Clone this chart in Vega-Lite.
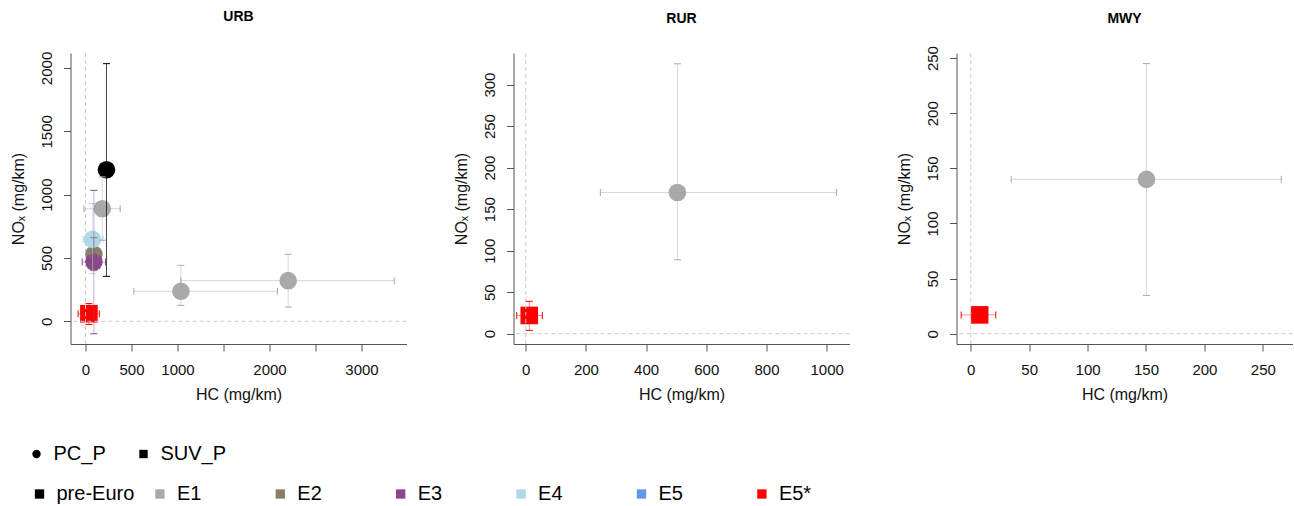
{
  "$schema": "https://vega.github.io/schema/vega-lite/v6.json",
  "background": "white",
  "padding": {"left": 9.5, "top": 10, "right": 0, "bottom": 0},
  "datasets": {
    "pts": [
      {"panel": "URB", "cat": "pre-Euro", "veh": "PC_P", "hc": 228, "nox": 1197, "hc_lo": 182, "hc_hi": 280, "nox_lo": 355, "nox_hi": 2034},
      {"panel": "URB", "cat": "E1", "veh": "PC_P", "hc": 182, "nox": 889, "hc_lo": -17, "hc_hi": 377, "nox_lo": 640, "nox_hi": 1140},
      {"panel": "URB", "cat": "E1", "veh": "PC_P", "hc": 1037, "nox": 237, "hc_lo": 526, "hc_hi": 2087, "nox_lo": 126, "nox_hi": 442},
      {"panel": "URB", "cat": "E1", "veh": "PC_P", "hc": 2203, "nox": 321, "hc_lo": 1037, "hc_hi": 3355, "nox_lo": 113, "nox_hi": 529},
      {"panel": "URB", "cat": "E2", "veh": "PC_P", "hc": 91, "nox": 529, "hc_lo": 50, "hc_hi": 135, "nox_lo": 400, "nox_hi": 660},
      {"panel": "URB", "cat": "E3", "veh": "PC_P", "hc": 91, "nox": 468, "hc_lo": -36, "hc_hi": 217, "nox_lo": -98, "nox_hi": 1034},
      {"panel": "URB", "cat": "E4", "veh": "PC_P", "hc": 76, "nox": 647, "hc_lo": -25, "hc_hi": 190, "nox_lo": 376, "nox_hi": 929},
      {"panel": "URB", "cat": "E5*", "veh": "SUV_P", "hc": 37, "nox": 60, "hc_lo": -80, "hc_hi": 150, "nox_lo": -25, "nox_hi": 140},
      {"panel": "RUR", "cat": "E1", "veh": "PC_P", "hc": 504, "nox": 170, "hc_lo": 248, "hc_hi": 1033, "nox_lo": 89, "nox_hi": 325},
      {"panel": "RUR", "cat": "E5*", "veh": "SUV_P", "hc": 11.6, "nox": 22, "hc_lo": -30, "hc_hi": 55, "nox_lo": 4, "nox_hi": 39},
      {"panel": "MWY", "cat": "E1", "veh": "PC_P", "hc": 150.4, "nox": 140, "hc_lo": 34.6, "hc_hi": 265.8, "nox_lo": 34.8, "nox_hi": 245},
      {"panel": "MWY", "cat": "E5*", "veh": "SUV_P", "hc": 7.6, "nox": 17.1, "hc_lo": -8.2, "hc_hi": 21.4, "nox_lo": 13, "nox_hi": 21}
    ],
    "ref": [{"ref": 0}]
  },
  "spacing": 107,
  "bounds": "flush",
  "hconcat": [
    {
      "width": 336, "height": 291,
      "title": {"text": "URB"},
      "layer": [
        {"data": {"name": "pts"}, "transform": [{"filter": "datum.panel === 'URB'"}],
         "mark": {"type": "point", "filled": true, "opacity": 1, "size": 310},
         "encoding": {
           "x": {"field": "hc", "type": "quantitative", "scale": {"domain": [-163, 3489], "nice": false, "zero": false}, "axis": {"title": "HC (mg/km)", "values": [0, 500, 1000, 1500, 2000, 2500, 3000], "format": "d", "labelExpr": "datum.value == 1500 || datum.value == 2500 ? '' : datum.label"}},
           "y": {"field": "nox", "type": "quantitative", "scale": {"domain": [-179, 2118], "nice": false, "zero": false}, "axis": {"title": "NOₓ (mg/km)", "values": [0, 500, 1000, 1500, 2000], "format": "d"}},
           "color": {"field": "cat", "type": "nominal", "scale": {"domain": ["pre-Euro", "E1", "E2", "E3", "E4", "E5", "E5*"], "range": ["#000000", "#A9A9A9", "#8B7D6B", "#8B4789", "#ADD8E6", "#6495ED", "#FF0000"]},
             "legend": {"orient": "none", "legendX": -41, "legendY": 431, "direction": "horizontal", "columns": 7, "gridAlign": "all", "columnPadding": 15.4, "symbolType": "square", "symbolSize": 87, "symbolStrokeWidth": 0, "symbolOpacity": 1, "labelFontSize": 20, "labelOffset": 7, "labelColor": "#000", "title": null}},
           "shape": {"field": "veh", "type": "nominal", "scale": {"domain": ["PC_P", "SUV_P"], "range": ["circle", "square"]},
             "legend": {"orient": "none", "legendX": -44, "legendY": 391, "direction": "horizontal", "columns": 2, "columnPadding": 27, "symbolSize": 70, "symbolFillColor": "#000", "symbolStrokeColor": "#000", "symbolStrokeWidth": 0, "symbolOpacity": 1, "labelFontSize": 20, "labelOffset": 7, "labelColor": "#000", "title": null}}
         }},
        {"data": {"name": "ref"}, "mark": {"type": "rule", "color": "#cccccc", "strokeDash": [4, 3], "strokeWidth": 1},
         "encoding": {"x": {"field": "ref", "type": "quantitative", "scale": {"domain": [-163, 3489], "nice": false, "zero": false}, "axis": {"title": "HC (mg/km)", "values": [0, 500, 1000, 1500, 2000, 2500, 3000], "format": "d", "labelExpr": "datum.value == 1500 || datum.value == 2500 ? '' : datum.label"}}}},
        {"data": {"name": "ref"}, "mark": {"type": "rule", "color": "#cccccc", "strokeDash": [4, 3], "strokeWidth": 1},
         "encoding": {"y": {"field": "ref", "type": "quantitative", "scale": {"domain": [-179, 2118], "nice": false, "zero": false}, "axis": {"title": "NOₓ (mg/km)", "values": [0, 500, 1000, 1500, 2000], "format": "d"}}}},
        {"data": {"name": "pts"}, "transform": [{"filter": "datum.panel === 'URB' && datum.cat !== 'pre-Euro'"}],
         "mark": {"type": "errorbar", "ticks": {"size": 7, "opacity": 1, "strokeOpacity": 0.45}, "rule": {"opacity": 1, "strokeOpacity": 0.45}, "thickness": 1},
         "encoding": {
           "x": {"field": "hc_lo", "type": "quantitative", "scale": {"domain": [-163, 3489], "nice": false, "zero": false}, "axis": {"title": "HC (mg/km)", "values": [0, 500, 1000, 1500, 2000, 2500, 3000], "format": "d", "labelExpr": "datum.value == 1500 || datum.value == 2500 ? '' : datum.label"}},
           "x2": {"field": "hc_hi"},
           "y": {"field": "nox", "type": "quantitative", "scale": {"domain": [-179, 2118], "nice": false, "zero": false}, "axis": {"title": "NOₓ (mg/km)", "values": [0, 500, 1000, 1500, 2000], "format": "d"}},
           "color": {"field": "cat", "type": "nominal", "scale": {"domain": ["pre-Euro", "E1", "E2", "E3", "E4", "E5", "E5*"], "range": ["#000000", "#A9A9A9", "#8B7D6B", "#8B4789", "#ADD8E6", "#6495ED", "#FF0000"]}}
         }},
        {"data": {"name": "pts"}, "transform": [{"filter": "datum.panel === 'URB' && datum.cat !== 'pre-Euro'"}],
         "mark": {"type": "errorbar", "ticks": {"size": 7, "opacity": 1, "strokeOpacity": 0.45}, "rule": {"opacity": 1, "strokeOpacity": 0.45}, "thickness": 1},
         "encoding": {
           "y": {"field": "nox_lo", "type": "quantitative", "scale": {"domain": [-179, 2118], "nice": false, "zero": false}, "axis": {"title": "NOₓ (mg/km)", "values": [0, 500, 1000, 1500, 2000], "format": "d"}},
           "y2": {"field": "nox_hi"},
           "x": {"field": "hc", "type": "quantitative", "scale": {"domain": [-163, 3489], "nice": false, "zero": false}, "axis": {"title": "HC (mg/km)", "values": [0, 500, 1000, 1500, 2000, 2500, 3000], "format": "d", "labelExpr": "datum.value == 1500 || datum.value == 2500 ? '' : datum.label"}},
           "color": {"field": "cat", "type": "nominal", "scale": {"domain": ["pre-Euro", "E1", "E2", "E3", "E4", "E5", "E5*"], "range": ["#000000", "#A9A9A9", "#8B7D6B", "#8B4789", "#ADD8E6", "#6495ED", "#FF0000"]}}
         }},
        {"data": {"name": "pts"}, "transform": [{"filter": "datum.panel === 'URB' && datum.cat === 'pre-Euro'"}],
         "mark": {"type": "errorbar", "ticks": {"size": 7, "opacity": 1, "strokeOpacity": 0.75}, "rule": {"opacity": 1, "strokeOpacity": 0.75}, "thickness": 1},
         "encoding": {
           "x": {"field": "hc_lo", "type": "quantitative", "scale": {"domain": [-163, 3489], "nice": false, "zero": false}, "axis": {"title": "HC (mg/km)", "values": [0, 500, 1000, 1500, 2000, 2500, 3000], "format": "d", "labelExpr": "datum.value == 1500 || datum.value == 2500 ? '' : datum.label"}},
           "x2": {"field": "hc_hi"},
           "y": {"field": "nox", "type": "quantitative", "scale": {"domain": [-179, 2118], "nice": false, "zero": false}, "axis": {"title": "NOₓ (mg/km)", "values": [0, 500, 1000, 1500, 2000], "format": "d"}},
           "color": {"field": "cat", "type": "nominal", "scale": {"domain": ["pre-Euro", "E1", "E2", "E3", "E4", "E5", "E5*"], "range": ["#000000", "#A9A9A9", "#8B7D6B", "#8B4789", "#ADD8E6", "#6495ED", "#FF0000"]}}
         }},
        {"data": {"name": "pts"}, "transform": [{"filter": "datum.panel === 'URB' && datum.cat === 'pre-Euro'"}],
         "mark": {"type": "errorbar", "ticks": {"size": 7, "opacity": 1, "strokeOpacity": 0.75}, "rule": {"opacity": 1, "strokeOpacity": 0.75}, "thickness": 1},
         "encoding": {
           "y": {"field": "nox_lo", "type": "quantitative", "scale": {"domain": [-179, 2118], "nice": false, "zero": false}, "axis": {"title": "NOₓ (mg/km)", "values": [0, 500, 1000, 1500, 2000], "format": "d"}},
           "y2": {"field": "nox_hi"},
           "x": {"field": "hc", "type": "quantitative", "scale": {"domain": [-163, 3489], "nice": false, "zero": false}, "axis": {"title": "HC (mg/km)", "values": [0, 500, 1000, 1500, 2000, 2500, 3000], "format": "d", "labelExpr": "datum.value == 1500 || datum.value == 2500 ? '' : datum.label"}},
           "color": {"field": "cat", "type": "nominal", "scale": {"domain": ["pre-Euro", "E1", "E2", "E3", "E4", "E5", "E5*"], "range": ["#000000", "#A9A9A9", "#8B7D6B", "#8B4789", "#ADD8E6", "#6495ED", "#FF0000"]}}
         }}
      ]
    },
    {
      "width": 336, "height": 291,
      "title": {"text": "RUR"},
      "layer": [
        {"data": {"name": "pts"}, "transform": [{"filter": "datum.panel === 'RUR'"}],
         "mark": {"type": "point", "filled": true, "opacity": 1, "size": 310},
         "encoding": {
           "x": {"field": "hc", "type": "quantitative", "scale": {"domain": [-40.8, 1076], "nice": false, "zero": false}, "axis": {"title": "HC (mg/km)", "values": [0, 200, 400, 600, 800, 1000], "format": "d"}},
           "y": {"field": "nox", "type": "quantitative", "scale": {"domain": [-12.4, 338], "nice": false, "zero": false}, "axis": {"title": "NOₓ (mg/km)", "values": [0, 50, 100, 150, 200, 250, 300], "format": "d"}},
           "color": {"field": "cat", "type": "nominal", "scale": {"domain": ["pre-Euro", "E1", "E2", "E3", "E4", "E5", "E5*"], "range": ["#000000", "#A9A9A9", "#8B7D6B", "#8B4789", "#ADD8E6", "#6495ED", "#FF0000"]}},
           "shape": {"field": "veh", "type": "nominal", "scale": {"domain": ["PC_P", "SUV_P"], "range": ["circle", "square"]}}
         }},
        {"data": {"name": "ref"}, "mark": {"type": "rule", "color": "#cccccc", "strokeDash": [4, 3], "strokeWidth": 1},
         "encoding": {"x": {"field": "ref", "type": "quantitative", "scale": {"domain": [-40.8, 1076], "nice": false, "zero": false}, "axis": {"title": "HC (mg/km)", "values": [0, 200, 400, 600, 800, 1000], "format": "d"}}}},
        {"data": {"name": "ref"}, "mark": {"type": "rule", "color": "#cccccc", "strokeDash": [4, 3], "strokeWidth": 1},
         "encoding": {"y": {"field": "ref", "type": "quantitative", "scale": {"domain": [-12.4, 338], "nice": false, "zero": false}, "axis": {"title": "NOₓ (mg/km)", "values": [0, 50, 100, 150, 200, 250, 300], "format": "d"}}}},
        {"data": {"name": "pts"}, "transform": [{"filter": "datum.panel === 'RUR'"}],
         "mark": {"type": "errorbar", "ticks": {"size": 7, "opacity": 1, "strokeOpacity": 0.45}, "rule": {"opacity": 1, "strokeOpacity": 0.45}, "thickness": 1},
         "encoding": {
           "x": {"field": "hc_lo", "type": "quantitative", "scale": {"domain": [-40.8, 1076], "nice": false, "zero": false}, "axis": {"title": "HC (mg/km)", "values": [0, 200, 400, 600, 800, 1000], "format": "d"}},
           "x2": {"field": "hc_hi"},
           "y": {"field": "nox", "type": "quantitative", "scale": {"domain": [-12.4, 338], "nice": false, "zero": false}, "axis": {"title": "NOₓ (mg/km)", "values": [0, 50, 100, 150, 200, 250, 300], "format": "d"}},
           "color": {"field": "cat", "type": "nominal", "scale": {"domain": ["pre-Euro", "E1", "E2", "E3", "E4", "E5", "E5*"], "range": ["#000000", "#A9A9A9", "#8B7D6B", "#8B4789", "#ADD8E6", "#6495ED", "#FF0000"]}}
         }},
        {"data": {"name": "pts"}, "transform": [{"filter": "datum.panel === 'RUR'"}],
         "mark": {"type": "errorbar", "ticks": {"size": 7, "opacity": 1, "strokeOpacity": 0.45}, "rule": {"opacity": 1, "strokeOpacity": 0.45}, "thickness": 1},
         "encoding": {
           "y": {"field": "nox_lo", "type": "quantitative", "scale": {"domain": [-12.4, 338], "nice": false, "zero": false}, "axis": {"title": "NOₓ (mg/km)", "values": [0, 50, 100, 150, 200, 250, 300], "format": "d"}},
           "y2": {"field": "nox_hi"},
           "x": {"field": "hc", "type": "quantitative", "scale": {"domain": [-40.8, 1076], "nice": false, "zero": false}, "axis": {"title": "HC (mg/km)", "values": [0, 200, 400, 600, 800, 1000], "format": "d"}},
           "color": {"field": "cat", "type": "nominal", "scale": {"domain": ["pre-Euro", "E1", "E2", "E3", "E4", "E5", "E5*"], "range": ["#000000", "#A9A9A9", "#8B7D6B", "#8B4789", "#ADD8E6", "#6495ED", "#FF0000"]}}
         }}
      ]
    },
    {
      "width": 336, "height": 291,
      "title": {"text": "MWY", "dy": 7},
      "layer": [
        {"data": {"name": "pts"}, "transform": [{"filter": "datum.panel === 'MWY'"}],
         "mark": {"type": "point", "filled": true, "opacity": 1, "size": 310},
         "encoding": {
           "x": {"field": "hc", "type": "quantitative", "scale": {"domain": [-12.2, 275.4], "nice": false, "zero": false}, "axis": {"title": "HC (mg/km)", "values": [0, 50, 100, 150, 200, 250], "format": "d"}},
           "y": {"field": "nox", "type": "quantitative", "scale": {"domain": [-9.3, 254.6], "nice": false, "zero": false}, "axis": {"title": "NOₓ (mg/km)", "values": [0, 50, 100, 150, 200, 250], "format": "d"}},
           "color": {"field": "cat", "type": "nominal", "scale": {"domain": ["pre-Euro", "E1", "E2", "E3", "E4", "E5", "E5*"], "range": ["#000000", "#A9A9A9", "#8B7D6B", "#8B4789", "#ADD8E6", "#6495ED", "#FF0000"]}},
           "shape": {"field": "veh", "type": "nominal", "scale": {"domain": ["PC_P", "SUV_P"], "range": ["circle", "square"]}}
         }},
        {"data": {"name": "ref"}, "mark": {"type": "rule", "color": "#cccccc", "strokeDash": [4, 3], "strokeWidth": 1},
         "encoding": {"x": {"field": "ref", "type": "quantitative", "scale": {"domain": [-12.2, 275.4], "nice": false, "zero": false}, "axis": {"title": "HC (mg/km)", "values": [0, 50, 100, 150, 200, 250], "format": "d"}}}},
        {"data": {"name": "ref"}, "mark": {"type": "rule", "color": "#cccccc", "strokeDash": [4, 3], "strokeWidth": 1},
         "encoding": {"y": {"field": "ref", "type": "quantitative", "scale": {"domain": [-9.3, 254.6], "nice": false, "zero": false}, "axis": {"title": "NOₓ (mg/km)", "values": [0, 50, 100, 150, 200, 250], "format": "d"}}}},
        {"data": {"name": "pts"}, "transform": [{"filter": "datum.panel === 'MWY'"}],
         "mark": {"type": "errorbar", "ticks": {"size": 7, "opacity": 1, "strokeOpacity": 0.45}, "rule": {"opacity": 1, "strokeOpacity": 0.45}, "thickness": 1},
         "encoding": {
           "x": {"field": "hc_lo", "type": "quantitative", "scale": {"domain": [-12.2, 275.4], "nice": false, "zero": false}, "axis": {"title": "HC (mg/km)", "values": [0, 50, 100, 150, 200, 250], "format": "d"}},
           "x2": {"field": "hc_hi"},
           "y": {"field": "nox", "type": "quantitative", "scale": {"domain": [-9.3, 254.6], "nice": false, "zero": false}, "axis": {"title": "NOₓ (mg/km)", "values": [0, 50, 100, 150, 200, 250], "format": "d"}},
           "color": {"field": "cat", "type": "nominal", "scale": {"domain": ["pre-Euro", "E1", "E2", "E3", "E4", "E5", "E5*"], "range": ["#000000", "#A9A9A9", "#8B7D6B", "#8B4789", "#ADD8E6", "#6495ED", "#FF0000"]}}
         }},
        {"data": {"name": "pts"}, "transform": [{"filter": "datum.panel === 'MWY'"}],
         "mark": {"type": "errorbar", "ticks": {"size": 7, "opacity": 1, "strokeOpacity": 0.45}, "rule": {"opacity": 1, "strokeOpacity": 0.45}, "thickness": 1},
         "encoding": {
           "y": {"field": "nox_lo", "type": "quantitative", "scale": {"domain": [-9.3, 254.6], "nice": false, "zero": false}, "axis": {"title": "NOₓ (mg/km)", "values": [0, 50, 100, 150, 200, 250], "format": "d"}},
           "y2": {"field": "nox_hi"},
           "x": {"field": "hc", "type": "quantitative", "scale": {"domain": [-12.2, 275.4], "nice": false, "zero": false}, "axis": {"title": "HC (mg/km)", "values": [0, 50, 100, 150, 200, 250], "format": "d"}},
           "color": {"field": "cat", "type": "nominal", "scale": {"domain": ["pre-Euro", "E1", "E2", "E3", "E4", "E5", "E5*"], "range": ["#000000", "#A9A9A9", "#8B7D6B", "#8B4789", "#ADD8E6", "#6495ED", "#FF0000"]}}
         }}
      ]
    }
  ],
  "config": {
    "font": "Liberation Sans",
    "view": {"stroke": null},
    "axis": {"grid": false, "domainColor": "#555", "tickColor": "#555", "tickSize": 7, "labelFontSize": 15, "labelColor": "#111", "titleFontSize": 16, "titleFontWeight": "normal", "titleColor": "#111", "labelFont": "Liberation Sans", "titleFont": "Liberation Sans"},
    "axisY": {"labelAngle": -90, "labelPadding": 9, "titlePadding": 13.5},
    "axisX": {"labelPadding": 11, "titlePadding": 9.5},
    "title": {"fontSize": 14, "fontWeight": "bold", "frame": "group", "anchor": "middle", "baseline": "alphabetic", "offset": 27, "color": "#000"},
    "legend": {"labelFont": "Liberation Sans"}
  }
}
